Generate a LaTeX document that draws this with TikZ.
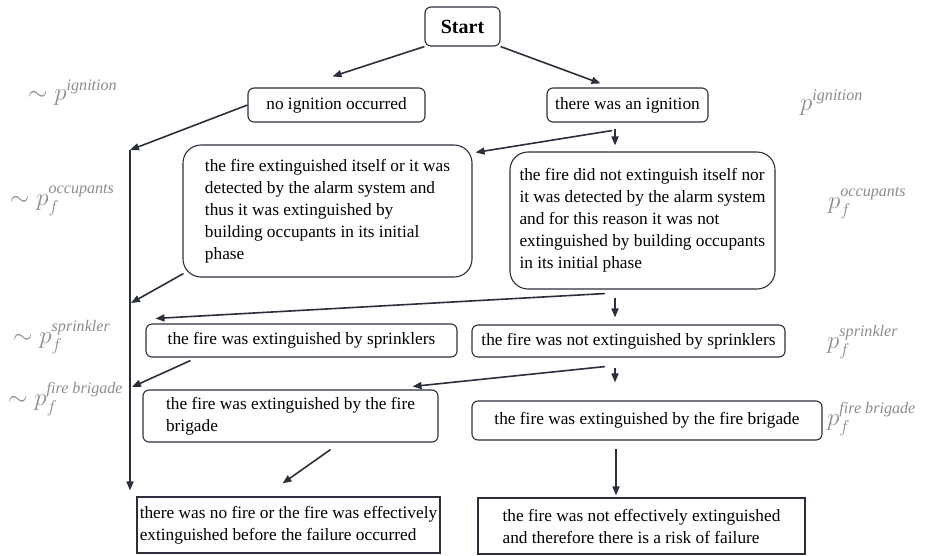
\documentclass[tikz,border=0pt]{standalone}
\usepackage{amsmath}
\usepackage{fontspec}
\setmainfont{Liberation Serif}
\usepackage{tikz}
\usetikzlibrary{arrows.meta}
\usetikzlibrary{calc}
\usetikzlibrary{positioning}
\definecolor{inkline}{HTML}{2B2F3C}

\begin{document}
\begin{tikzpicture}[%
  x=1pt, y=-1pt,
  >={Triangle[length=9pt,width=7pt]},
  arr/.style={draw=inkline, line width=1.6pt, ->},
  box/.style={draw=inkline, line width=1.1pt, rounded corners=6pt, inner sep=0pt,
    align=left, font=\fontsize{17.3}{22}\selectfont},
  bigbox/.style={box, rounded corners=18pt},
  endbox/.style={box, rounded corners=0pt},
  prob/.style={text=black!45, anchor=base west, inner sep=0pt,
    font=\fontsize{23}{26}\selectfont}
  ]
  \useasboundingbox (0,0) rectangle (928,555);

  % Draw the boxes of the tree
  \node[box, minimum width=75, minimum height=39, font=\fontsize{20}{24}\selectfont\bfseries]
    (start) at (462.5,26.5) {Start};
  \node[box, minimum width=177, minimum height=34] (noign) at (336.5,105) {no ignition occurred};
  \node[box, minimum width=161, minimum height=34] (ign) at (627.5,105) {there was an ignition};
  \node[bigbox, minimum width=289, minimum height=132] (occL) at (327.5,211)
    {the fire extinguished itself or it was\\ detected by the alarm system and\\
     thus it was extinguished by\\ building occupants in its initial\\ phase};
  \node[bigbox, minimum width=265, minimum height=137] (occR) at (642.5,220.5)
    {the fire did not extinguish itself nor\\ it was detected by the alarm system\\
     and for this reason it was not\\ extinguished by building occupants\\ in its initial phase};
  \node[box, minimum width=311, minimum height=33] (sprL) at (301.5,340.5)
    {the fire was extinguished by sprinklers};
  \node[box, minimum width=313, minimum height=32] (sprR) at (628.5,341)
    {the fire was not extinguished by sprinklers};
  \node[box, minimum width=295, minimum height=52] (brigL) at (290.5,416)
    {the fire was extinguished by the fire\\ brigade};
  \node[box, minimum width=350, minimum height=39] (brigR) at (647,420.5)
    {the fire was extinguished by the fire brigade};
  \node[endbox, minimum width=303, minimum height=56] (nofail) at (288.5,525)
    {there was no fire or the fire was effectively\\ extinguished before the failure occurred};
  \node[endbox, minimum width=327, minimum height=56] (fail) at (641.5,526)
    {the fire was not effectively extinguished\\ and therefore there is a risk of failure};

  % Trunk on the left and column of down arrows on the right
  \coordinate (trunk) at (130,150);
  \coordinate (trunk-occ) at (131,303);
  \coordinate (trunk-spr) at (132,387);
  \coordinate (col) at (615,0);

  % Connect the boxes
  \draw[arr] (start.south west) -- ($(noign.north)+(-4,-11)$);
  \draw[arr] (start.south east) -- ($(ign.north)+(-27,-4)$);
  \draw[arr] (noign.west) -- (trunk);
  \draw[arr] (trunk) -- ($(trunk |- nofail.north)+(0,-6)$);
  \draw[arr] ($(occL.south west)+(1,-4)$) -- (trunk-occ);
  \draw[arr] ($(sprL.south west)+(45,3)$) -- (trunk-spr);

  \draw[arr] ($(ign.south -| col)+(-3,8)$) -- ($(occL.north east)+(3,8)$);
  \draw[arr] ($(ign.south -| col)+(0,6)$) -- ($(occR.north -| col)+(0,-6)$);
  \draw[arr] ($(occR.south -| col)+(-10,4)$) -- ($(sprL.north west)+(10,-5)$);
  \draw[arr] ($(occR.south -| col)+(0,8)$) -- ($(sprR.north -| col)+(0,-7)$);
  \draw[arr] ($(sprR.south -| col)+(-10,9)$) -- ($(brigL.north east)+(-26,-3)$);
  \draw[arr] ($(sprR.south -| col)+(0,10)$) -- ($(brigR.north -| col)+(0,-18)$);
  \draw[arr] ($(brigR.south -| col)+(1,8)$) -- ($(fail.north -| col)+(1,-2)$);
  \draw[arr] ($(brigL.south)+(40,7)$) -- ($(nofail.north)+(-6,-13)$);

  % Annotate the probabilities
  \node[prob] (p-ign-no) at (28,100) {$\sim p^{\textit{ignition}}$};
  \node[prob] (p-occ-no) at (10,205) {$\sim p_f^{\textit{occupants}}$};
  \node[prob] (p-spr-no) at (13,343) {$\sim p_f^{\textit{sprinkler}}$};
  \node[prob] (p-fb-no) at (8,405) {$\sim p_f^{\textit{fire brigade}}$};
  \node[prob] (p-ign) at (800,110) {$p^{\textit{ignition}}$};
  \node[prob] (p-occ) at (828,208) {$p_f^{\textit{occupants}}$};
  \node[prob] (p-spr) at (827,348) {$p_f^{\textit{sprinkler}}$};
  \node[prob] (p-fb) at (827,425) {$p_f^{\textit{fire brigade}}$};
\end{tikzpicture}
\end{document}
